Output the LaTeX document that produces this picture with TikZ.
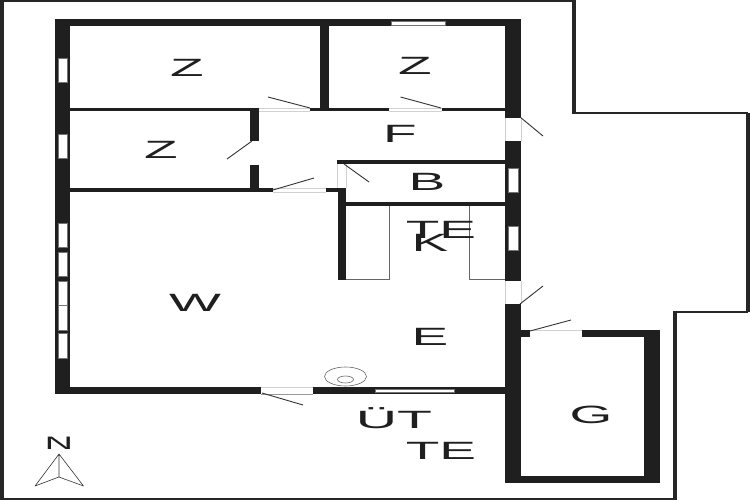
\documentclass[tikz,border=0pt]{standalone}
\usepackage{fontspec}
\setmainfont[FakeBold=0.5,AutoFakeBold=false]{Liberation Sans}
\tikzset{
  wall/.style={fill=black!88},
  pane/.style={fill=white, draw=black!55, line width=0.4pt},
  jamb/.style={draw=black!18, line width=0.7pt},
  swing/.style={draw=black!80, line width=0.9pt},
  fitting/.style={draw=black!60, line width=1.7pt},
  plot/.style={draw=black!85, line width=1.3pt},
  room/.style={font=\fontsize{25}{25}\selectfont\bfseries, text=black!88, xscale=2.2, transform shape, inner sep=0pt, text height=18pt, text depth=0pt},
  north/.style={room, font=\fontsize{18}{18}\selectfont\bfseries, text height=13pt}
}
\begin{document}
\begin{tikzpicture}[x=1pt,y=-1pt]
\useasboundingbox (0,0) rectangle (750,500);
\fill[white] (0,0) rectangle (750,500);

\draw[plot, line width=4pt] (2,-3) -- (2,503);
\draw[plot, line width=2pt] (0,1) -- (573,1);
\draw[plot, line width=4pt] (574,0) -- (574,113);
\draw[plot, line width=2pt] (572,113) -- (748,113);
\draw[plot, line width=4pt] (748,113) -- (748,312);
\draw[plot, line width=2pt] (748,311.5) -- (675,311.5);
\draw[plot, line width=4pt] (675,310.5) -- (675,500);
\draw[plot, line width=2.5pt] (0,499) -- (677,499);

\fill[wall] (55,19.5) rectangle (521,26);
\fill[wall] (55,19.5) rectangle (70,394);
\fill[wall] (505,19.5) rectangle (521,118);
\fill[wall] (505,141) rectangle (521,281);
\fill[wall] (505,304) rectangle (521,483);
\fill[wall] (505,476) rectangle (660,483);
\fill[wall] (644,330) rectangle (660,483);
\fill[wall] (505,330) rectangle (530,337);
\fill[wall] (582,330) rectangle (660,337);
\fill[wall] (55,387) rectangle (261,394);
\fill[wall] (313,387) rectangle (505,394);
\fill[wall] (320,26) rectangle (329,108);
\fill[wall] (70,108) rectangle (259,111.5);
\fill[wall] (310,108) rectangle (389,111.5);
\fill[wall] (442,108) rectangle (505,111.5);
\fill[wall] (250,108) rectangle (258.5,141.5);
\fill[wall] (250,165) rectangle (258.5,192.5);
\fill[wall] (70,188) rectangle (273,192.5);
\fill[wall] (325.5,188) rectangle (346,192.5);
\fill[wall] (338,188) rectangle (346,280);
\fill[wall] (337,160) rectangle (505,164);
\fill[wall] (346,202) rectangle (505,206);

\path[pane] (58,58) rectangle (67.5,82);
\path[pane] (58,134) rectangle (67.5,158);
\path[pane] (58,223) rectangle (67.5,247);
\path[pane] (58,252) rectangle (67.5,276);
\path[pane] (58,281) rectangle (67.5,305.5);
\path[pane] (58,305.5) rectangle (67.5,330);
\path[pane] (58,333) rectangle (67.5,358);
\path[pane] (391,21) rectangle (445,25);
\path[pane] (508,168) rectangle (518,192);
\path[pane] (508,226) rectangle (518,250);
\path[pane] (375,389) rectangle (454,392.5);

\draw[jamb] (259,108) -- (310,108) (259,111) -- (310,111);
\draw[jamb] (389,108) -- (442,108) (389,111) -- (442,111);
\draw[jamb] (273,188) -- (325.5,188) (273,192) -- (325.5,192);
\draw[jamb] (337,164) -- (337,188) (346,164) -- (346,188);
\draw[jamb] (505,118) -- (505,141) (521,118) -- (521,141);
\draw[jamb] (505,281) -- (505,304) (521,281) -- (521,304);
\draw[jamb] (530,330) -- (582,330);
\draw[jamb] (261,387) -- (313,387);
\draw[jamb, black!40] (261,394) -- (313,394);

\draw[swing] (268,97) -- (310,108);
\draw[swing] (400.5,97) -- (441,108);
\draw[swing] (227,159) -- (252,141);
\draw[swing] (369,182) -- (344,164);
\draw[swing] (273,190) -- (314,178);
\draw[swing] (520,117) -- (543,136);
\draw[swing] (520,304) -- (543,286);
\draw[swing] (530,331) -- (571,320);
\draw[swing] (262,393) -- (303,405);

\draw[fitting] (389.5,206) -- (389.5,279);
\draw[fitting] (469.5,206) -- (469.5,279);
\draw[fitting, line width=1pt] (346,279) -- (390,279) (469,279) -- (505,279);
\draw[fitting, line width=0.6pt] (345.5,376.5) ellipse [x radius=21, y radius=9.5];
\draw[fitting, line width=0.6pt] (345.5,379.5) ellipse [x radius=8, y radius=3.5];

\node[room] (bedroomA) at (187,68) {Z};
\node[room] (bedroomB) at (415,66) {Z};
\node[room] (bedroomC) at (161,150) {Z};
\node[room] (hall) at (400,134) {F};
\node[room] (bath) at (427,181) {B};
\node[room] (kitchenA) at (441,229) {TE};
\node[room] (kitchenB) at (430,242) {K};
\node[room] (living) at (195,302) {W};
\node[room] (dining) at (430,336) {E};
\node[room, xscale=1.04] (terraceA) at (394,419.5) {ÜT};
\node[room] (terraceB) at (441,450) {TE};
\node[room] (garage) at (591,414) {G};
\node[north] (compass) at (59,443) {N};

\coordinate (tip) at (59,454);
\coordinate (hub) at (59,477);
\coordinate (leftfoot) at (35,486);
\coordinate (rightfoot) at (83.5,486);
\draw[swing, line width=0.6pt, line join=round] (hub) -- (tip) -- (leftfoot) -- (hub) -- (rightfoot) -- (tip);
\end{tikzpicture}
\end{document}
